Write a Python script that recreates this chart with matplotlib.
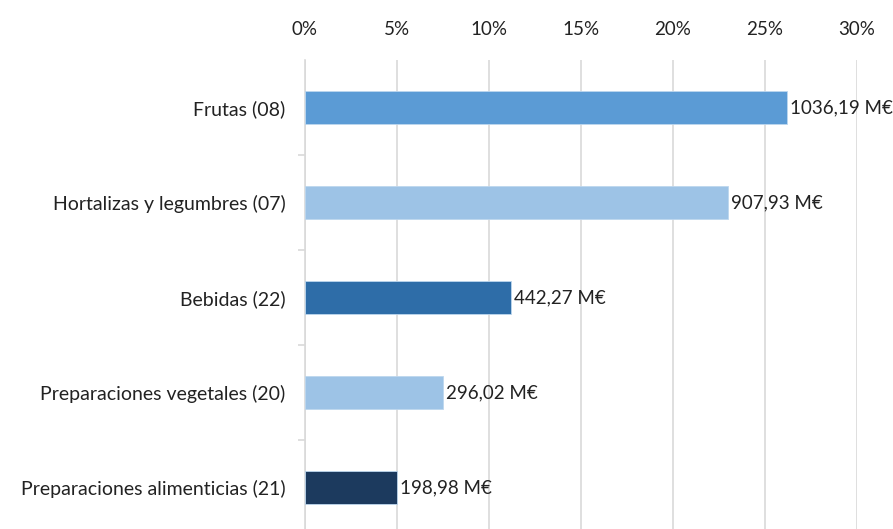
import matplotlib.pyplot as plt
from matplotlib.ticker import FuncFormatter

plt.rcParams['font.family'] = ['Lato', 'DejaVu Sans']

# datos
categorias = ['Frutas (08)', 'Hortalizas y legumbres (07)', 'Bebidas (22)',
              'Preparaciones vegetales (20)', 'Preparaciones alimenticias (21)']
porcentajes = [26.2, 23.0, 11.2, 7.5, 5.0]
etiquetas = ['1036,19 M€', '907,93 M€', '442,27 M€', '296,02 M€', '198,98 M€']
colores = ['#5B9BD5', '#9DC3E6', '#2E6DA8', '#9DC3E6', '#1C3A5E']

fig = plt.figure(figsize=(8.93, 5.29), dpi=100)
ax = fig.add_axes([305 / 893, 1 - 535 / 529, (857 - 305) / 893, 475 / 529])

y = list(range(len(categorias)))
ax.barh(y, porcentajes, height=0.34, color=colores, edgecolor='#BDD7EE',
        linewidth=0.6, zorder=3)

for yi, v, txt in zip(y, porcentajes, etiquetas):
    ax.annotate(txt, (v, yi), xytext=(2, 0), textcoords='offset points',
                va='center', ha='left', fontsize=13.5, color='#222222')

ax.set_ylim(len(categorias) - 0.5, -0.5)
ax.set_xlim(0, 30)
ax.set_xticks([0, 5, 10, 15, 20, 25, 30])
ax.xaxis.set_major_formatter(FuncFormatter(lambda v, p: f'{v:.0f}%'))
ax.xaxis.tick_top()
ax.tick_params(axis='x', length=0, pad=16, labelsize=13.5, labelcolor='#222222')
ax.grid(axis='x', color='#D9D9D9', linewidth=1.2, zorder=0)

ax.set_yticks(y)
ax.set_yticklabels(categorias, fontsize=14, color='#222222')
ax.set_yticks([i + 0.5 for i in y[:-1]], minor=True)
ax.tick_params(axis='y', which='major', length=0, pad=14)
ax.tick_params(axis='y', which='minor', length=5, color='#D9D9D9', width=1.2)

for s in ['top', 'right', 'bottom']:
    ax.spines[s].set_visible(False)
ax.spines['left'].set_color('#D9D9D9')
ax.spines['left'].set_linewidth(1.2)

fig.savefig('out.png', dpi=100)
